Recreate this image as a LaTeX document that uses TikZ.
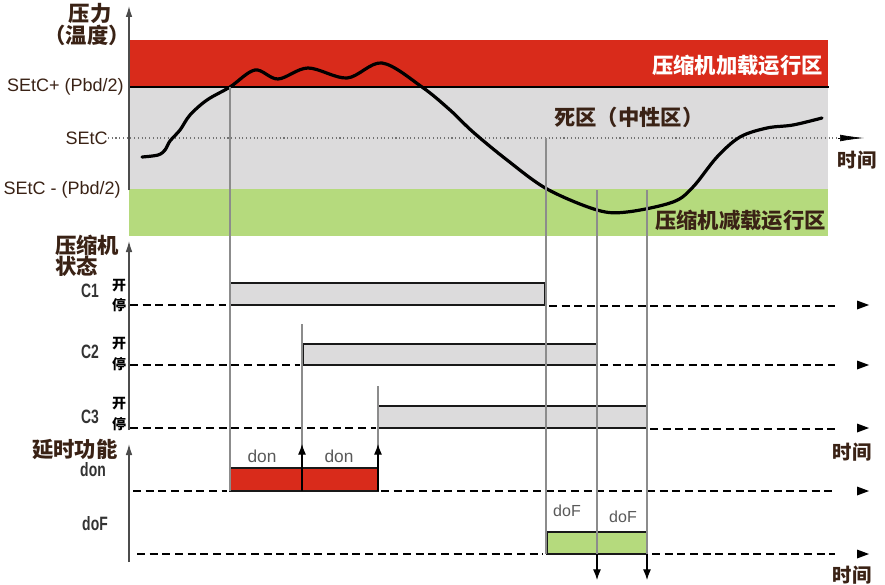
\documentclass[tikz,border=0pt]{standalone}
\usepackage{fontspec}
\usepackage{tikz}
\usetikzlibrary{arrows.meta}
\setmainfont{Liberation Sans}
\newfontfamily\cjk{Noto Sans CJK SC}
\newfontfamily\narrowfont[FakeStretch=0.72]{Liberation Sans}

\definecolor{hotred}{HTML}{D92B1B}
\definecolor{deadgray}{HTML}{DCDBDC}
\definecolor{coolgreen}{HTML}{B5DA7D}
\definecolor{ink}{HTML}{3A2215}
\definecolor{rowgray}{HTML}{333333}

\tikzset{
  zonetext/.style={font=\cjk\bfseries\fontsize{16}{16}\selectfont, text=ink, inner sep=0pt},
  timetext/.style={font=\cjk\bfseries\fontsize{14.5}{14.5}\selectfont, text=ink, inner sep=0pt},
  sidetext/.style={font=\fontsize{13.5}{13.5}\selectfont, text=ink, inner sep=0pt},
  rowtext/.style={font=\narrowfont\bfseries\fontsize{14.5}{14.5}\selectfont, text=rowgray, inner sep=0pt},
  switchtext/.style={font=\cjk\bfseries\fontsize{10.5}{10.5}\selectfont, text=black, inner sep=0pt},
  timertext/.style={font=\fontsize{13}{13}\selectfont, text=black!65, inner sep=0pt},
  axis/.style={draw=black!70, line width=1.5pt, -{Latex[length=9pt,width=5pt]}},
  idle/.style={line width=1.4pt, dash pattern=on 6pt off 3.5pt},
  bar/.style={line width=1.7pt, draw=black!90},
  guide/.style={draw=black!45, line width=0.8pt},
  tip/.style={line width=0.8pt, -{Latex[length=8pt,width=6pt]}},
}

\begin{document}
\begin{tikzpicture}[x=0.75pt,y=-0.75pt]
\useasboundingbox (0,0) rectangle (885,585);

% pressure zones
\fill[hotred] (129,40) rectangle (828,87);
\fill[deadgray] (129,87) rectangle (828,189);
\fill[coolgreen] (129,189) rectangle (828,236);
\draw[line width=1.6pt] (129,87) -- (829,87);

\node[zonetext] (py) at (90,13) {压力};
\node[zonetext] (pyt) at (87,35) {（温度）};
\node[sidetext, anchor=east] (hi) at (124,87) {SEtC+ (Pbd/2)};
\node[sidetext, anchor=east] (mid) at (108,138) {SEtC};
\node[sidetext, anchor=east] (lo) at (121,190) {SEtC - (Pbd/2)};
\node[zonetext, text=white, anchor=east] (load) at (823,65) {压缩机加载运行区};
\node[zonetext, anchor=west] (dead) at (554,117) {死区（中性区）};
\node[zonetext, anchor=east] (unload) at (826,220) {压缩机减载运行区};
\node[timetext] (t1) at (857,160) {时间};

\coordinate (o1) at (129,190);
\coordinate (y1) at (129,5);
\draw[axis] (o1) -- (y1);
\coordinate (x1) at (838,138);
\draw[black!55, dotted, line width=0.8pt] (mid.east) -- (x1);
\draw[-{Latex[length=18pt,width=5pt]}, line width=0.5pt] (x1) -- (864,138);

% pressure curve
\draw[line width=2.4pt, line cap=round, line join=round] plot[smooth, tension=0.55] coordinates {
  (142,157) (158,155) (165,150) (170,141) (180,130) (190,115) (207,100) (230,87)
  (255,70) (278,79) (308,68) (347,78) (382,63) (422,87) (450,110) (473,132)
  (507,160) (547,189) (597,210) (627,212) (673,202) (693,187) (717,157)
  (740,137) (767,128) (793,125) (822,118)};

% compressor state
\node[zonetext, anchor=west] (cs) at (55,245) {压缩机};
\node[zonetext, anchor=west] (cs2) at (55,266) {状态};
\coordinate (o2) at (129,430);
\coordinate (y2) at (129,240);
\draw[axis] (o2) -- (y2);

\node[rowtext] (c1) at (90,291) {C1};
\node[rowtext] (c2) at (90,352) {C2};
\node[rowtext] (c3) at (90,417) {C3};
\node[switchtext] (on1) at (119,286) {开};
\node[switchtext] (off1) at (119,305) {停};
\node[switchtext] (on2) at (119,344) {开};
\node[switchtext] (off2) at (119,364) {停};
\node[switchtext] (on3) at (119,404) {开};
\node[switchtext] (off3) at (119,424) {停};
\node[timetext] (t2) at (852,452) {时间};

% delay functions
\node[zonetext, anchor=west] (df) at (32,449) {延时功能};
\coordinate (o3) at (129,562);
\coordinate (y3) at (129,443);
\draw[axis] (o3) -- (y3);
\node[rowtext] (dn) at (93,470) {don};
\node[rowtext] (dF) at (95,524) {doF};
\node[timetext] (t3) at (852,575) {时间};

% idle levels
\draw[idle] (130,305) -- (226,305);
\draw[idle] (549,306) -- (835,306);
\draw[idle] (130,365) -- (300,365);
\draw[idle] (600,365) -- (835,365);
\draw[idle] (130,428) -- (376,428);
\draw[idle] (650,429) -- (835,429);
\draw[idle] (133,491) -- (227,491);
\draw[idle] (381,491) -- (835,491);
\draw[idle] (137,554) -- (543,554);
\draw[idle] (652,554) -- (835,554);
\foreach \y in {305,365,428,491,554}
  \fill (857,\y-4.5) -- (869,\y) -- (857,\y+4.5) -- cycle;

% running bars
\draw[bar, fill=deadgray] (230,283) rectangle (545,305);
\draw[bar, fill=deadgray] (303,344) rectangle (597,365);
\draw[bar, fill=deadgray] (378,406) rectangle (647,428);
\draw[bar, fill=hotred] (230,468) rectangle (302,491);
\draw[bar, fill=hotred] (302,468) rectangle (378,491);
\draw[bar, fill=coolgreen] (547,532) rectangle (597,554);
\draw[bar, fill=coolgreen] (597,532) rectangle (647,554);
\node[timertext] (don1) at (262,456) {don};
\node[timertext] (don2) at (339,456) {don};
\node[timertext, font=\fontsize{12}{12}\selectfont] (dof1) at (567,511) {doF};
\node[timertext, font=\fontsize{12}{12}\selectfont] (dof2) at (623,517) {doF};

% switching instants
\coordinate (s1) at (230,87);   \coordinate (s1b) at (230,491);
\coordinate (s2) at (302,324);  \coordinate (s2b) at (302,491);
\coordinate (s3) at (378,386);  \coordinate (s3b) at (378,491);
\coordinate (r1) at (546,138);  \coordinate (r1b) at (546,554);
\coordinate (r2) at (597,190);  \coordinate (r2b) at (597,554);
\coordinate (r3) at (647,190);  \coordinate (r3b) at (647,554);
\draw[guide] (s1) -- (s1b);
\draw[guide] (s2) -- (s2b);
\draw[guide] (s3) -- (s3b);
\draw[guide] (r1) -- (r1b);
\draw[guide] (r2) -- (r2b);
\draw[guide] (r3) -- (r3b);
\coordinate (a2) at (302,444);
\coordinate (a3) at (378,444);
\draw[tip] (s2b) -- (a2);
\draw[tip] (s3b) -- (a3);
\coordinate (d2) at (597,580);
\coordinate (d3) at (647,580);
\draw[tip] (r2b) -- (d2);
\draw[tip] (r3b) -- (d3);
\end{tikzpicture}
\end{document}
